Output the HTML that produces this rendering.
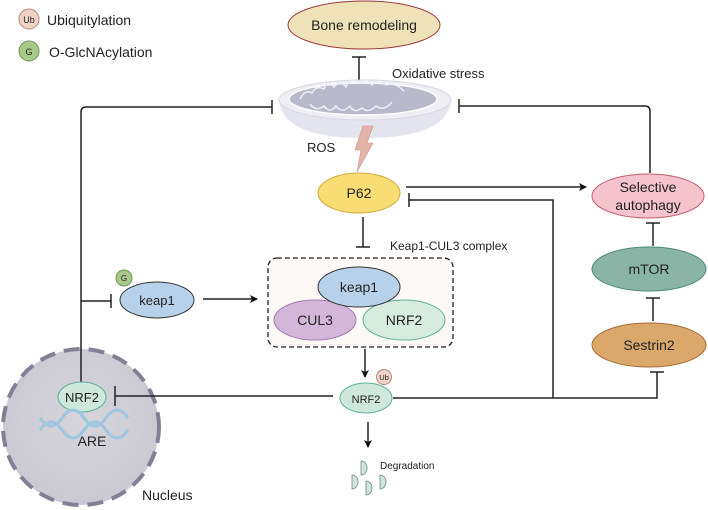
<!DOCTYPE html>
<html><head><meta charset="utf-8"><style>
html,body{margin:0;padding:0;background:#fff;width:708px;height:510px;overflow:hidden}
text{font-family:"Liberation Sans",Arial,sans-serif;fill:#222}
</style></head><body>
<svg width="708" height="510" viewBox="0 0 708 510" xmlns="http://www.w3.org/2000/svg">
<defs>
<marker id="ar" markerWidth="8" markerHeight="8" refX="7" refY="4" orient="auto" markerUnits="userSpaceOnUse"><path d="M0,0 L8,4 L0,8 L2,4 Z" fill="#111"/></marker>
<radialGradient id="nuc" cx="0.5" cy="0.45" r="0.6"><stop offset="0" stop-color="#d6d5dc"/><stop offset="1" stop-color="#c9c7d0"/></radialGradient>
</defs>
<!-- nucleus (background) -->
<circle cx="81" cy="427" r="78" fill="url(#nuc)" stroke="#857f96" stroke-width="4" stroke-dasharray="16,9"/>

<!-- legend -->
<circle cx="29" cy="19" r="10" fill="#efd3c6" stroke="#b48a78" stroke-width="1"/>
<text x="29" y="23" font-size="9" text-anchor="middle">Ub</text>
<text x="47" y="25" font-size="14">Ubiquitylation</text>
<circle cx="29" cy="51" r="10" fill="#a9c98a" stroke="#6f9450" stroke-width="1"/>
<text x="29" y="55" font-size="9" text-anchor="middle">G</text>
<text x="49" y="57" font-size="14">O-GlcNAcylation</text>

<!-- bone remodeling -->
<ellipse cx="364" cy="25" rx="76" ry="24" fill="#efe1b8" stroke="#9a3a3a" stroke-width="1"/>
<text x="364" y="30" font-size="14" text-anchor="middle">Bone remodeling</text>
<line x1="359" y1="80" x2="359" y2="57" stroke="#222" stroke-width="1.5"/>
<line x1="352" y1="57" x2="366" y2="57" stroke="#222" stroke-width="1.5"/>
<text x="392" y="78" font-size="13">Oxidative stress</text>

<!-- mitochondrion -->
<path d="M279,100 A86,20 0 0 1 451,100 Q448,138 365,138 Q282,138 279,100 Z" fill="#e4e4ee"/>
<ellipse cx="365" cy="100" rx="86" ry="20" fill="#eeeef4" stroke="#d8d8e2"/>
<ellipse cx="363" cy="99" rx="74" ry="16" fill="#b9b9cc" stroke="#fff" stroke-width="1.5"/>
<path d="M300,99 q5,-10 12,-6 q4,-8 12,-4 q3,-10 10,-2 q6,-8 12,0 q4,-10 14,-4 q6,-6 12,2 q8,-8 14,0 q8,-4 18,6 M310,104 q6,8 14,2 q6,8 12,0 q6,8 14,0 q4,8 12,2 q6,6 14,-2 q8,6 16,-4" fill="none" stroke="#eeeef6" stroke-width="1.5"/>

<!-- left inhibit to mito -->
<path d="M81,383 L81,112 Q81,107 86,107 L272,107" fill="none" stroke="#222" stroke-width="1.5"/>
<line x1="272" y1="100" x2="272" y2="114" stroke="#222" stroke-width="1.5"/>
<!-- right inhibit to mito -->
<path d="M650,173 L650,111 Q650,106 645,106 L459,106" fill="none" stroke="#222" stroke-width="1.5"/>
<line x1="459" y1="99" x2="459" y2="113" stroke="#222" stroke-width="1.5"/>

<text x="307" y="152" font-size="13">ROS</text>
<path d="M363,126 L373,126 L367,143 L373,143 L357,172 L361,150 L355,150 Z" fill="#e2b4a8" stroke="#c9958a" stroke-width="0.6"/>

<!-- P62 -->
<ellipse cx="359" cy="193" rx="41" ry="20" fill="#f8dc74" stroke="#d3a93a" stroke-width="1"/>
<text x="359" y="198" font-size="14" text-anchor="middle">P62</text>
<line x1="406" y1="187" x2="586" y2="187" stroke="#222" stroke-width="1.5" marker-end="url(#ar)"/>
<path d="M409,200 L553,200 L553,398" fill="none" stroke="#222" stroke-width="1.5"/>
<line x1="409" y1="193" x2="409" y2="207" stroke="#222" stroke-width="1.5"/>
<line x1="363" y1="217" x2="363" y2="247" stroke="#222" stroke-width="1.5"/>
<line x1="356" y1="247" x2="370" y2="247" stroke="#222" stroke-width="1.5"/>
<text x="390" y="250" font-size="12">Keap1-CUL3 complex</text>

<!-- selective autophagy etc -->
<ellipse cx="648" cy="196" rx="56" ry="22" fill="#f4c3cc" stroke="#c45a70" stroke-width="1"/>
<text x="648" y="192" font-size="14" text-anchor="middle">Selective</text>
<text x="648" y="210" font-size="14" text-anchor="middle">autophagy</text>
<line x1="653" y1="246" x2="653" y2="223" stroke="#222" stroke-width="1.5"/>
<line x1="646" y1="223" x2="660" y2="223" stroke="#222" stroke-width="1.5"/>
<ellipse cx="649" cy="269" rx="57" ry="22" fill="#8ab5a6" stroke="#4d8878" stroke-width="1"/>
<text x="649" y="274" font-size="14" text-anchor="middle">mTOR</text>
<line x1="653" y1="321" x2="653" y2="298" stroke="#222" stroke-width="1.5"/>
<line x1="646" y1="298" x2="660" y2="298" stroke="#222" stroke-width="1.5"/>
<ellipse cx="649" cy="345" rx="57" ry="22" fill="#dba86c" stroke="#a56c33" stroke-width="1"/>
<text x="649" y="350" font-size="14" text-anchor="middle">Sestrin2</text>
<path d="M393,398 L657,398 L657,372" fill="none" stroke="#222" stroke-width="1.5"/>
<line x1="650" y1="372" x2="664" y2="372" stroke="#222" stroke-width="1.5"/>

<!-- complex box -->
<rect x="268" y="258" width="185" height="89" rx="9" fill="#fdf9f7" stroke="#222" stroke-width="1.3" stroke-dasharray="5,3"/>
<ellipse cx="315" cy="320" rx="41" ry="20" fill="#d5b6db" stroke="#a27aae"/>
<text x="315" y="325" font-size="14" text-anchor="middle">CUL3</text>
<ellipse cx="404" cy="320" rx="41" ry="20" fill="#d6ecdf" stroke="#5fb09a"/>
<text x="404" y="325" font-size="14" text-anchor="middle">NRF2</text>
<ellipse cx="359" cy="287" rx="41" ry="20" fill="#b7d1ea" stroke="#333"/>
<text x="359" y="292" font-size="14" text-anchor="middle">keap1</text>
<line x1="365" y1="349" x2="365" y2="377" stroke="#222" stroke-width="1.5" marker-end="url(#ar)"/>

<!-- NRF2 Ub -->
<ellipse cx="366" cy="398" rx="26" ry="15" fill="#cfe8dc" stroke="#5fb09a"/>
<text x="366" y="403" font-size="11" text-anchor="middle">NRF2</text>
<circle cx="384" cy="377" r="7.5" fill="#efd3c6" stroke="#b48a78"/>
<text x="384" y="380" font-size="7.5" text-anchor="middle">Ub</text>
<line x1="115" y1="396" x2="333" y2="396" stroke="#222" stroke-width="1.5"/>
<line x1="368" y1="422" x2="368" y2="447" stroke="#222" stroke-width="1.5" marker-end="url(#ar)"/>
<text x="380" y="469" font-size="10">Degradation</text>
<g fill="#cfe4da" stroke="#6c8c80" stroke-width="0.8">
<path d="M361,461 a6,7 0 0 1 0,14 Z"/><path d="M352,475 a6,7 0 0 1 0,14 Z"/><path d="M366,481 a6,7 0 0 1 0,14 Z"/><path d="M380,475 a6,7 0 0 1 0,14 Z"/>
</g>

<!-- keap1 G -->
<ellipse cx="157" cy="300" rx="37" ry="18" fill="#b7d1ea" stroke="#333"/>
<text x="157" y="305" font-size="13" text-anchor="middle">keap1</text>
<circle cx="124" cy="278" r="8" fill="#a9c98a" stroke="#6f9450"/>
<text x="124" y="281" font-size="8" text-anchor="middle">G</text>
<line x1="81" y1="301" x2="111" y2="301" stroke="#222" stroke-width="1.5"/>
<line x1="111" y1="294" x2="111" y2="308" stroke="#222" stroke-width="1.5"/>
<line x1="203" y1="299" x2="257" y2="299" stroke="#222" stroke-width="1.5" marker-end="url(#ar)"/>

<!-- nucleus contents -->
<ellipse cx="82" cy="397" rx="24" ry="15" fill="#cfe8dc" stroke="#5fb09a"/>
<text x="82" y="402" font-size="13" text-anchor="middle">NRF2</text>
<line x1="115" y1="386" x2="115" y2="406" stroke="#222" stroke-width="1.5"/>
<path d="M40,418 q11,16 22,0 t22,0 t22,0 t22,0 M40,430 q11,-16 22,0 t22,0 t22,0 t22,0" fill="none" stroke="#9ec6e0" stroke-width="3"/>
<text x="92" y="446" font-size="14" text-anchor="middle">ARE</text>
<text x="142" y="500" font-size="14">Nucleus</text>
</svg>
</body></html>
